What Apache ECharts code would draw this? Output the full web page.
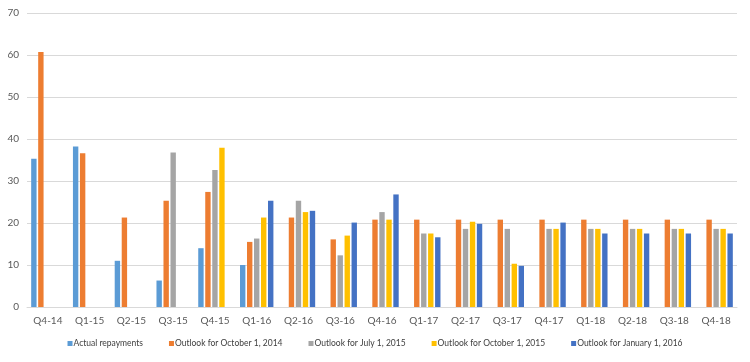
<!DOCTYPE html>
<html><head><meta charset="utf-8">
<script src="https://cdn.jsdelivr.net/npm/echarts@6/dist/echarts.min.js"></script>
<style>html,body{margin:0;padding:0;background:#fff}#c{width:750px;height:362px}</style>
</head><body><div id="c"></div>
<script>
const categories = ['Q4-14','Q1-15','Q2-15','Q3-15','Q4-15','Q1-16','Q2-16','Q3-16','Q4-16','Q1-17','Q2-17','Q3-17','Q4-17','Q1-18','Q2-18','Q3-18','Q4-18'];
const actualRepayments = [35.3, 38.2, 11.0, 6.3, 14.0, 10.0, null, null, null, null, null, null, null, null, null, null, null];
const outlookOct2014 = [60.7, 36.6, 21.3, 25.3, 27.4, 15.5, 21.3, 16.1, 20.8, 20.8, 20.8, 20.8, 20.8, 20.8, 20.8, 20.8, 20.8];
const outlookJul2015 = [null, null, null, 36.8, 32.6, 16.3, 25.3, 12.3, 22.6, 17.5, 18.6, 18.6, 18.6, 18.6, 18.6, 18.6, 18.6];
const outlookOct2015 = [null, null, null, null, 37.9, 21.3, 22.6, 17.0, 20.8, 17.5, 20.3, 10.3, 18.6, 18.6, 18.6, 18.6, 18.6];
const outlookJan2016 = [null, null, null, null, null, 25.3, 22.9, 20.1, 26.8, 16.6, 19.8, 9.8, 20.1, 17.5, 17.5, 17.5, 17.5];
const seriesNames = ['Actual repayments','Outlook for October 1, 2014','Outlook for July 1, 2015','Outlook for October 1, 2015','Outlook for January 1, 2016'];
const seriesData = [actualRepayments, outlookOct2014, outlookJul2015, outlookOct2015, outlookJan2016];
const colors = ['#5B9BD5','#ED7D31','#A5A5A5','#FFC000','#4472C4'];
const font = 'Lato';
const chart = echarts.init(document.getElementById('c'));
chart.setOption({
  animation: false,
  color: colors,
  textStyle: {fontFamily: font},
  grid: {left: 27, right: 13, top: 13, bottom: 55, containLabel: false},
  legend: {
    bottom: 9, left: 'center', itemWidth: 5, itemHeight: 5, itemGap: 26, icon: 'rect',
    textStyle: {fontSize: 8.5, color: '#404040', fontFamily: font, padding: [0,0,0,-4]},
    data: seriesNames
  },
  xAxis: {
    type: 'category', data: categories,
    axisLine: {lineStyle: {color: '#D9D9D9'}}, axisTick: {show: false},
    axisLabel: {color: '#595959', fontSize: 10, margin: 9, interval: 0}
  },
  yAxis: {
    type: 'value', min: 0, max: 70, interval: 10,
    axisLine: {show: false}, axisTick: {show: false},
    splitLine: {lineStyle: {color: '#D9D9D9'}},
    axisLabel: {color: '#595959', fontSize: 10, margin: 8}
  },
  series: seriesNames.map((n, i) => ({
    name: n, type: 'bar', data: seriesData[i],
    barCategoryGap: '20%', barGap: '30%'
  }))
});
</script></body></html>
